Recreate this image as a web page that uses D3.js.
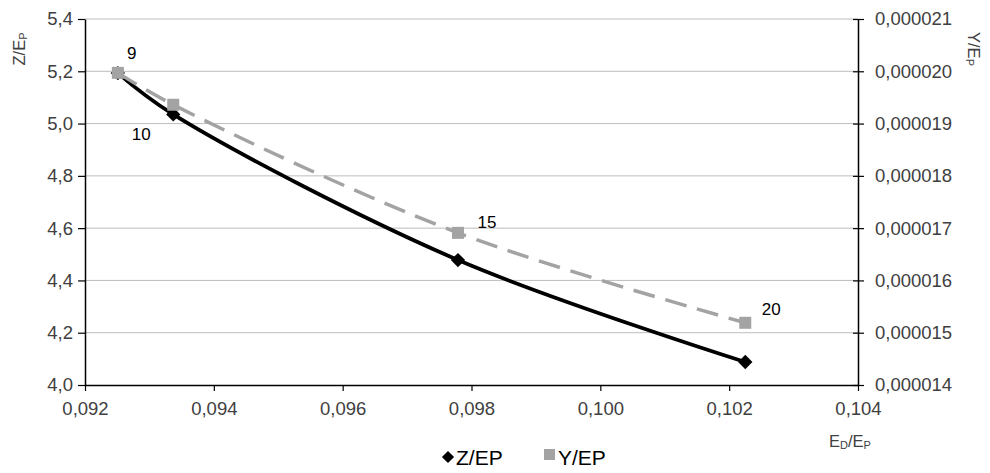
<!DOCTYPE html>
<html>
<head>
<meta charset="utf-8">
<script src="https://cdn.jsdelivr.net/npm/d3@7"></script>
<style>
  body { margin: 0; background: #fff; }
  text { font-family: "Liberation Sans", Arial, sans-serif; }
</style>
</head>
<body>
<div id="chart"></div>
<script>
// values
var pointLabels = ["9", "10", "15", "20"];
var edEp = [0.09251, 0.09337, 0.09779, 0.10225];
var zEp = [5.193, 5.035, 4.478, 4.088];
var yEp = [0.00001997, 0.00001936, 0.00001691, 0.00001519];

var xTicks = [0.092, 0.094, 0.096, 0.098, 0.100, 0.102, 0.104];
var leftTicks = [4.0, 4.2, 4.4, 4.6, 4.8, 5.0, 5.2, 5.4];
var rightTicks = [0.000014, 0.000015, 0.000016, 0.000017, 0.000018, 0.000019, 0.000020, 0.000021];

var W = 990, H = 473;
var margin = { top: 19, right: 132, bottom: 88, left: 85 },
    width = W - margin.left - margin.right,
    height = H - margin.top - margin.bottom;

var svg = d3.select("#chart").append("svg")
    .attr("width", W)
    .attr("height", H);

var g = svg.append("g")
    .attr("transform", "translate(" + margin.left + "," + margin.top + ")");

var x = d3.scaleLinear().domain([0.092, 0.104]).range([0, width]);
var yL = d3.scaleLinear().domain([4.0, 5.4]).range([height, 0]);
var yR = d3.scaleLinear().domain([0.000014, 0.000021]).range([height, 0]);

var comma = function (fmt) {
    return function (d) { return d3.format(fmt)(d).replace(".", ","); };
};

// gridlines
g.selectAll(".grid")
    .data(leftTicks.slice(1))
    .join("line")
    .attr("x1", 0).attr("x2", width)
    .attr("y1", function (d) { return yL(d); })
    .attr("y2", function (d) { return yL(d); })
    .attr("stroke", "#bdbdbd")
    .attr("stroke-width", 1);

// axes
var xAxis = g.append("g")
    .attr("transform", "translate(0," + height + ")")
    .call(d3.axisBottom(x).tickValues(xTicks).tickFormat(comma(".3f")).tickSize(6).tickSizeOuter(0));

var leftAxis = g.append("g")
    .call(d3.axisLeft(yL).tickValues(leftTicks).tickFormat(comma(".1f")).tickSize(7).tickSizeOuter(0));

var rightAxis = g.append("g")
    .attr("transform", "translate(" + width + ",0)")
    .call(d3.axisRight(yR).tickValues(rightTicks).tickFormat(comma(".6f")).tickSize(6).tickSizeOuter(0));

[xAxis, leftAxis, rightAxis].forEach(function (a) {
    a.select(".domain").attr("stroke", "#000").attr("stroke-width", 1.5);
    a.selectAll(".tick line").attr("stroke", "#000").attr("stroke-width", 1.2);
    a.selectAll("text").attr("fill", "#404040").style("font-size", "18.5px");
});
xAxis.selectAll("text").attr("dy", "1.15em");
leftAxis.selectAll("text").attr("x", -12);
rightAxis.selectAll("line").attr("x1", -5);
rightAxis.selectAll("text").attr("x", 17);

// lines
var zPts = edEp.map(function (d, i) { return [x(d), yL(zEp[i])]; });
var yPts = edEp.map(function (d, i) { return [x(d), yR(yEp[i])]; });
var line = d3.line().curve(d3.curveCatmullRom.alpha(0.5));

g.append("path")
    .attr("d", line(zPts))
    .attr("fill", "none")
    .attr("stroke", "#000")
    .attr("stroke-width", 3.8);

g.selectAll(".zmark")
    .data(zPts)
    .join("path")
    .attr("transform", function (d) { return "translate(" + d[0] + "," + d[1] + ")"; })
    .attr("d", d3.symbol(d3.symbolDiamond2, 130))
    .attr("fill", "#000");

g.append("path")
    .attr("d", line(yPts))
    .attr("fill", "none")
    .attr("stroke", "#a3a3a3")
    .attr("stroke-width", 3.5)
    .attr("stroke-dasharray", "22,11");

g.selectAll(".ymark")
    .data(yPts)
    .join("rect")
    .attr("x", function (d) { return d[0] - 6; })
    .attr("y", function (d) { return d[1] - 6; })
    .attr("width", 12).attr("height", 12)
    .attr("fill", "#a3a3a3");

// data labels next to Y/EP points
var labelOffset = [[14, -14], [-32, 35], [29, -5], [26, -8]];
g.selectAll(".plabel")
    .data(pointLabels)
    .join("text")
    .attr("x", function (d, i) { return yPts[i][0] + labelOffset[i][0]; })
    .attr("y", function (d, i) { return yPts[i][1] + labelOffset[i][1]; })
    .attr("text-anchor", "middle")
    .style("font-size", "17px")
    .attr("fill", "#000")
    .text(function (d) { return d; });

// axis titles
function subTitle(sel, parts) {
    parts.forEach(function (p) {
        sel.append("tspan")
            .text(p[0])
            .attr("baseline-shift", p[1] ? "-2" : null)
            .style("font-size", p[1] ? "11px" : "16.5px");
    });
}

var tl = svg.append("text")
    .attr("transform", "translate(25,49) rotate(-90)")
    .attr("text-anchor", "middle")
    .attr("fill", "#404040");
subTitle(tl, [["Z/E", false], ["P", true]]);

var tr = svg.append("text")
    .attr("transform", "translate(968,49) rotate(90)")
    .attr("text-anchor", "middle")
    .attr("fill", "#404040");
subTitle(tr, [["Y/E", false], ["P", true]]);

var tx = svg.append("text")
    .attr("x", 850).attr("y", 447)
    .attr("text-anchor", "middle")
    .attr("fill", "#404040");
subTitle(tx, [["E", false], ["D", true], ["/E", false], ["P", true]]);

// legend
var legend = svg.append("g");
legend.append("path")
    .attr("transform", "translate(448,457)")
    .attr("d", d3.symbol(d3.symbolDiamond2, 95))
    .attr("fill", "#000");
legend.append("text")
    .attr("x", 456).attr("y", 465)
    .style("font-size", "21px")
    .attr("fill", "#000")
    .text("Z/EP");
legend.append("rect")
    .attr("x", 544).attr("y", 449)
    .attr("width", 11).attr("height", 11)
    .attr("fill", "#a3a3a3");
legend.append("text")
    .attr("x", 558).attr("y", 465)
    .style("font-size", "21px")
    .attr("fill", "#000")
    .text("Y/EP");
</script>
</body>
</html>
